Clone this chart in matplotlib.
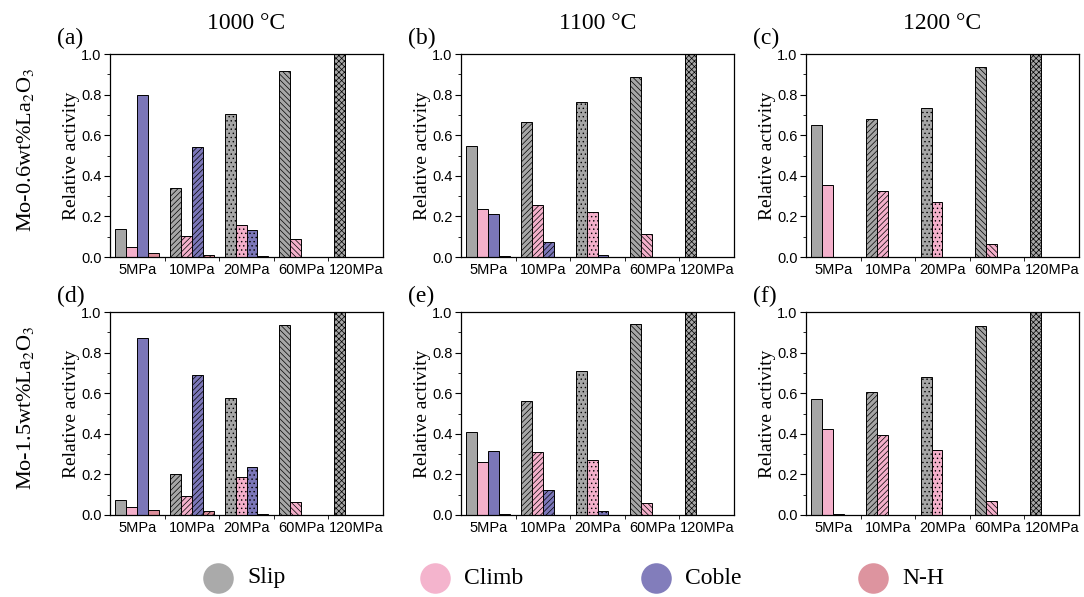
import numpy as np
import matplotlib
matplotlib.use("Agg")
import matplotlib.pyplot as plt

plt.rcParams["hatch.linewidth"] = 0.5
plt.rcParams["hatch.color"] = "#333333"
plt.rcParams["mathtext.fontset"] = "stix"

# ---------------------------------------------------------
# data
# ---------------------------------------------------------
stresses = ["5MPa", "10MPa", "20MPa", "60MPa", "120MPa"]
mechanisms = ["Slip", "Climb", "Coble", "N-H"]
temps = ["1000 °C", "1100 °C", "1200 °C"]
alloys = ["Mo-0.6wt%La$_2$O$_3$", "Mo-1.5wt%La$_2$O$_3$"]

# Mo-0.6wt%La2O3
slip_a = [0.138, 0.341, 0.705, 0.914, 1.0]
climb_a = [0.048, 0.105, 0.160, 0.087, 0.0]
coble_a = [0.796, 0.542, 0.135, 0.0, 0.0]
nh_a = [0.021, 0.012, 0.003, 0.0, 0.0]

slip_b = [0.547, 0.667, 0.766, 0.886, 1.0]
climb_b = [0.234, 0.255, 0.224, 0.114, 0.0]
coble_b = [0.213, 0.074, 0.012, 0.0, 0.0]
nh_b = [0.005, 0.002, 0.0, 0.0, 0.0]

slip_c = [0.649, 0.680, 0.736, 0.938, 1.0]
climb_c = [0.353, 0.323, 0.269, 0.064, 0.0]
coble_c = [0.002, 0.0, 0.0, 0.0, 0.0]
nh_c = [0.0, 0.0, 0.0, 0.0, 0.0]

# Mo-1.5wt%La2O3
slip_d = [0.072, 0.204, 0.577, 0.936, 1.0]
climb_d = [0.040, 0.096, 0.186, 0.066, 0.0]
coble_d = [0.871, 0.689, 0.237, 0.0, 0.0]
nh_d = [0.025, 0.018, 0.006, 0.0, 0.0]

slip_e = [0.410, 0.562, 0.707, 0.941, 1.0]
climb_e = [0.262, 0.311, 0.273, 0.059, 0.0]
coble_e = [0.316, 0.122, 0.020, 0.0, 0.0]
nh_e = [0.007, 0.002, 0.0, 0.0, 0.0]

slip_f = [0.573, 0.606, 0.679, 0.931, 1.0]
climb_f = [0.423, 0.392, 0.320, 0.069, 0.0]
coble_f = [0.005, 0.002, 0.0, 0.0, 0.0]
nh_f = [0.0, 0.0, 0.0, 0.0, 0.0]

panels = [
    ("(a)", [slip_a, climb_a, coble_a, nh_a]),
    ("(b)", [slip_b, climb_b, coble_b, nh_b]),
    ("(c)", [slip_c, climb_c, coble_c, nh_c]),
    ("(d)", [slip_d, climb_d, coble_d, nh_d]),
    ("(e)", [slip_e, climb_e, coble_e, nh_e]),
    ("(f)", [slip_f, climb_f, coble_f, nh_f]),
]

colors = ["#a6a6a6", "#f4b0cb", "#7b76b8", "#dc8e9a"]
hatches = ["", "//////", "....", "\\\\\\\\\\\\", "xxxxxx"]

# ---------------------------------------------------------
# figure
# ---------------------------------------------------------
W, H = 1084, 597
fig = plt.figure(figsize=(W / 100, H / 100), dpi=100)

col_left = [110, 461, 806]
row_top = [54, 312]
ax_w, ax_h = 273, 203

serif = "Liberation Serif"
sans = "Liberation Sans"

x = np.arange(len(stresses))
bw = 0.2

for k, (label, series) in enumerate(panels):
    r, c = divmod(k, 3)
    left = col_left[c] / W
    bottom = 1 - (row_top[r] + ax_h) / H
    ax = fig.add_axes([left, bottom, ax_w / W, ax_h / H])

    for m in range(4):
        for g in range(len(stresses)):
            ax.bar(x[g] - 0.3 + m * bw, series[m][g], width=bw,
                   color=colors[m], edgecolor="black", linewidth=0.7,
                   hatch=hatches[g], zorder=2)

    ax.set_xlim(-0.5, 4.5)
    ax.set_ylim(0, 1.0)
    ax.set_yticks(np.arange(0, 1.01, 0.2))
    ax.set_yticklabels([f"{v:.1f}" for v in np.arange(0, 1.01, 0.2)],
                       fontfamily=sans, fontsize=10.5)
    ax.set_yticks(np.arange(0.1, 1.0, 0.2), minor=True)
    ax.set_xticks(x)
    ax.set_xticklabels(stresses, fontfamily=sans, fontsize=10.5)
    ax.set_xticks(np.arange(0.5, 4.0, 1.0), minor=True)
    ax.tick_params(axis="x", which="major", length=0, pad=4)
    ax.tick_params(axis="x", which="minor", length=3, direction="out")
    ax.tick_params(axis="y", which="major", length=4, direction="out", pad=2)
    ax.tick_params(axis="y", which="minor", length=2, direction="out")
    for sp in ax.spines.values():
        sp.set_linewidth(0.9)

    ax.set_ylabel("Relative activity", fontfamily=serif, fontsize=14, labelpad=1)

    ax.text(-0.195, 1.025, label, transform=ax.transAxes, fontfamily=serif,
            fontsize=17, ha="left", va="bottom")
    if r == 0:
        ax.text(0.5, 1.1, temps[c], transform=ax.transAxes, fontfamily=serif,
                fontsize=17, ha="center", va="bottom")

# row labels
for r, name in enumerate(alloys):
    yc = 1 - (row_top[r] + ax_h / 2 - 6) / H
    fig.text(26 / W, yc, name, rotation=90, fontfamily=serif, fontsize=16,
             ha="center", va="center")

# legend at bottom
leg_x = [218, 435, 656, 873]
leg_y = 578
lax = fig.add_axes([0, 0, 1, 1], facecolor="none")
lax.set_xlim(0, W)
lax.set_ylim(H, 0)
lax.axis("off")
for m, name in enumerate(mechanisms):
    lax.plot(leg_x[m], leg_y, "o", ms=22, color=colors[m], alpha=0.95,
             markeredgewidth=0)
    lax.text(leg_x[m] + 29, leg_y, name, fontfamily=serif, fontsize=17,
             ha="left", va="center")

fig.savefig("out.png", dpi=100)
